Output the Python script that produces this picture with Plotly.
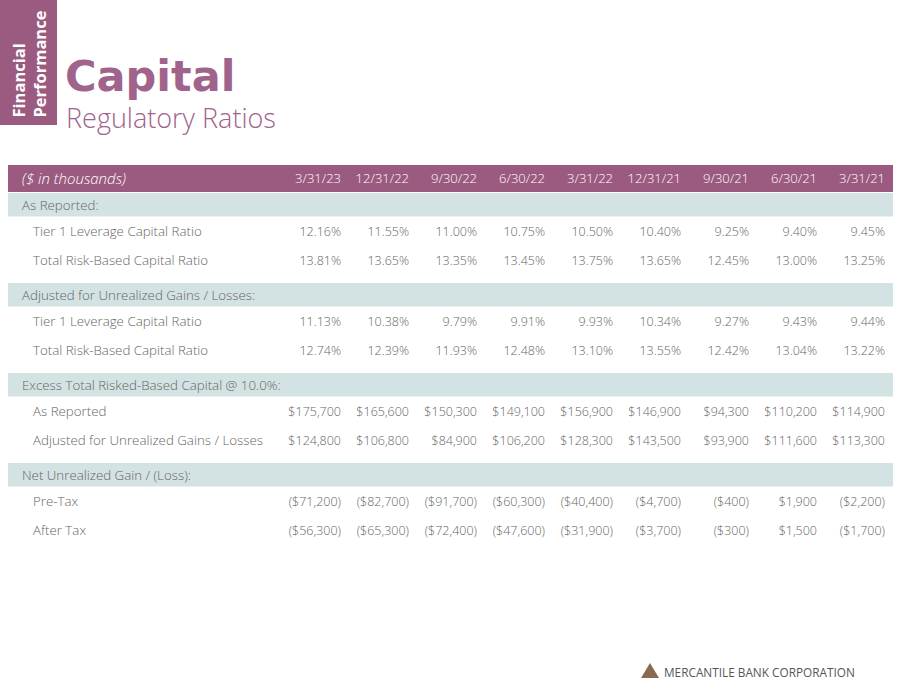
import plotly.graph_objects as go

# ---------------- data ----------------
dates = ["3/31/23", "12/31/22", "9/30/22", "6/30/22", "3/31/22",
         "12/31/21", "9/30/21", "6/30/21", "3/31/21"]

section_titles = ["As Reported:",
                  "Adjusted for Unrealized Gains / Losses:",
                  "Excess Total Risked-Based Capital @ 10.0%:",
                  "Net Unrealized Gain / (Loss):"]

item_labels = [
    ["Tier 1 Leverage Capital Ratio", "Total Risk-Based Capital Ratio"],
    ["Tier 1 Leverage Capital Ratio", "Total Risk-Based Capital Ratio"],
    ["As Reported", "Adjusted for Unrealized Gains / Losses"],
    ["Pre-Tax", "After Tax"],
]

tier1_reported = [12.16, 11.55, 11.00, 10.75, 10.50, 10.40, 9.25, 9.40, 9.45]
total_rb_reported = [13.81, 13.65, 13.35, 13.45, 13.75, 13.65, 12.45, 13.00, 13.25]
tier1_adjusted = [11.13, 10.38, 9.79, 9.91, 9.93, 10.34, 9.27, 9.43, 9.44]
total_rb_adjusted = [12.74, 12.39, 11.93, 12.48, 13.10, 13.55, 12.42, 13.04, 13.22]
excess_reported = [175700, 165600, 150300, 149100, 156900, 146900, 94300, 110200, 114900]
excess_adjusted = [124800, 106800, 84900, 106200, 128300, 143500, 93900, 111600, 113300]
unrealized_pretax = [-71200, -82700, -91700, -60300, -40400, -4700, -400, 1900, -2200]
unrealized_aftertax = [-56300, -65300, -72400, -47600, -31900, -3700, -300, 1500, -1700]

# ---------------- formatting ----------------
def pct(v):
    return f"{v:.2f}%"

def money(v):
    s = f"${abs(v):,.0f}"
    return f"({s})" if v < 0 else s

groups = [
    [[pct(v) for v in tier1_reported], [pct(v) for v in total_rb_reported]],
    [[pct(v) for v in tier1_adjusted], [pct(v) for v in total_rb_adjusted]],
    [[money(v) for v in excess_reported], [money(v) for v in excess_adjusted]],
    [[money(v) for v in unrealized_pretax], [money(v) for v in unrealized_aftertax]],
]

# ---------------- layout constants (pixels) ----------------
W, H = 900, 695
MAUVE = "#9b5a80"
TITLE_MAUVE = "#a0638b"
BAND = "#d3e2e2"
TXT = "#666666"
FONT = "Open Sans"
VALUE_SIZE = 12.5
LABEL_SIZE = 13.3
TEXT_DY = 1.5

TABLE_L, TABLE_R = 8, 893
HEADER_TOP, HEADER_H = 165, 27
SECTION_H, ROW_H, GROUP_GAP = 23.5, 29, 8.5
FIRST_COL_R, COL_STEP = 341, 68
SECTION_X, ITEM_X = 22, 33

col_right = [FIRST_COL_R + COL_STEP * i for i in range(len(dates))]

fig = go.Figure()
shapes = []
annotations = []

# header bar
shapes.append(dict(type="rect", xref="x", yref="y", x0=TABLE_L, x1=TABLE_R,
                   y0=HEADER_TOP, y1=HEADER_TOP + HEADER_H,
                   fillcolor=MAUVE, line_width=0, layer="below"))
hy = HEADER_TOP + HEADER_H / 2 + TEXT_DY
fig.add_trace(go.Scatter(x=col_right, y=[hy] * len(dates), text=dates,
                         mode="text", textposition="middle left",
                         textfont=dict(family=FONT, size=13, color="white", weight=300),
                         hoverinfo="skip", showlegend=False))
fig.add_trace(go.Scatter(x=[SECTION_X], y=[hy], text=["<i>($ in thousands)</i>"],
                         mode="text", textposition="middle right",
                         textfont=dict(family=FONT, size=15, color="white", weight=300),
                         hoverinfo="skip", showlegend=False))

# body
y = HEADER_TOP + HEADER_H + 1
for title, labels, rows in zip(section_titles, item_labels, groups):
    shapes.append(dict(type="rect", xref="x", yref="y", x0=TABLE_L, x1=TABLE_R,
                       y0=y, y1=y + SECTION_H, fillcolor=BAND, line_width=0,
                       layer="below"))
    fig.add_trace(go.Scatter(x=[SECTION_X], y=[y + SECTION_H / 2 + TEXT_DY], text=[title],
                             mode="text", textposition="middle right",
                             textfont=dict(family=FONT, size=LABEL_SIZE, color=TXT, weight=300),
                             hoverinfo="skip", showlegend=False))
    y += SECTION_H
    for lab, vals in zip(labels, rows):
        cy = y + ROW_H / 2 + TEXT_DY
        fig.add_trace(go.Scatter(x=[ITEM_X], y=[cy], text=[lab],
                                 mode="text", textposition="middle right",
                                 textfont=dict(family=FONT, size=LABEL_SIZE, color=TXT, weight=300),
                                 hoverinfo="skip", showlegend=False))
        fig.add_trace(go.Scatter(x=col_right, y=[cy] * len(vals), text=vals,
                                 mode="text", textposition="middle left",
                                 textfont=dict(family=FONT, size=VALUE_SIZE, color=TXT, weight=300),
                                 hoverinfo="skip", showlegend=False))
        y += ROW_H
    y += GROUP_GAP

# side tab
shapes.append(dict(type="rect", xref="x", yref="y", x0=0, x1=57, y0=0, y1=125,
                   fillcolor=MAUVE, line_width=0, layer="below"))
annotations.append(dict(xref="x", yref="y", x=28, y=120, xanchor="center", yanchor="bottom",
                        text="<b>Financial<br>Performance</b>", textangle=-90, align="left",
                        showarrow=False,
                        font=dict(family=FONT, size=16.5, color="white")))

# titles
annotations.append(dict(xref="x", yref="y", x=63, y=76, xanchor="left", yanchor="middle",
                        text="<b>Capital</b>", showarrow=False,
                        font=dict(family="DejaVu Sans", size=43, color=TITLE_MAUVE)))
annotations.append(dict(xref="x", yref="y", x=64, y=117, xanchor="left", yanchor="middle",
                        text="Regulatory Ratios", showarrow=False,
                        font=dict(family=FONT, size=27, color=TITLE_MAUVE, weight=300)))

# footer logo
shapes.append(dict(type="path", xref="x", yref="y",
                   path="M 641 678 L 650 663 L 659 678 Z",
                   fillcolor="#8a6a50", line_width=0))
annotations.append(dict(xref="x", yref="y", x=662, y=672, xanchor="left", yanchor="middle",
                        text="MERCANTILE BANK CORPORATION", showarrow=False,
                        font=dict(family=FONT, size=11.8, color="#555555")))

fig.update_layout(
    width=W, height=H,
    margin=dict(l=0, r=0, t=0, b=0),
    paper_bgcolor="white", plot_bgcolor="white",
    xaxis=dict(range=[0, W], visible=False, fixedrange=True),
    yaxis=dict(range=[H, 0], visible=False, fixedrange=True),
    shapes=shapes, annotations=annotations,
    showlegend=False,
)

fig.write_html("out.html",
               config={"displayModeBar": False},
               post_script="document.body.style.margin='0';document.body.style.overflow='hidden';")
